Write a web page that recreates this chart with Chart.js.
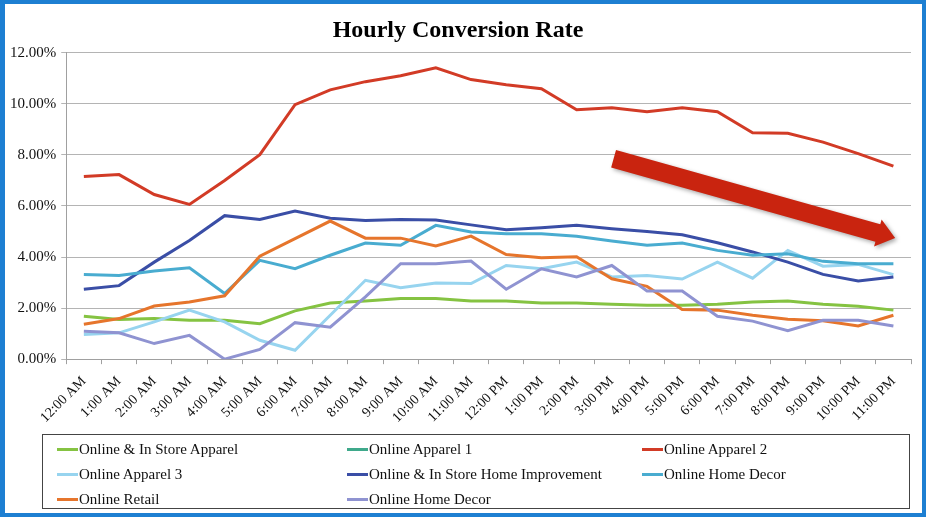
<!DOCTYPE html>
<html>
<head>
<meta charset="utf-8">
<script src="https://cdn.jsdelivr.net/npm/chart.js@4.4.1/dist/chart.umd.min.js"></script>
<style>
  html, body { margin: 0; padding: 0; background: #fff; }
  #wrap { position: relative; width: 928px; height: 520px; }
  #frame { position: absolute; left: 0; top: 0; width: 926px; height: 517px; box-sizing: border-box;
    border: 4px solid #1d7fd2; border-left-width: 5px; pointer-events: none; }
  #legend { position: absolute; left: 42px; top: 434px; width: 868px; height: 75px; box-sizing: border-box;
    border: 1px solid #444; font-family: 'Liberation Serif', serif; font-size: 15px; color: #111; }
  .item { position: absolute; display: flex; align-items: center; white-space: nowrap; }
  .swatch { width: 21px; height: 3px; margin-right: 1px; }
</style>
</head>
<body>
<div id="wrap">
  <canvas id="chart" width="928" height="520"></canvas>
  <div id="legend"></div>
  <div id="frame"></div>
</div>
<script>
// Hourly conversion rate (%)
const hours = ['12:00 AM', '1:00 AM', '2:00 AM', '3:00 AM', '4:00 AM', '5:00 AM', '6:00 AM', '7:00 AM',
  '8:00 AM', '9:00 AM', '10:00 AM', '11:00 AM', '12:00 PM', '1:00 PM', '2:00 PM', '3:00 PM', '4:00 PM',
  '5:00 PM', '6:00 PM', '7:00 PM', '8:00 PM', '9:00 PM', '10:00 PM', '11:00 PM'];

const storeApparel = [1.68, 1.55, 1.59, 1.52, 1.52, 1.39, 1.89, 2.2, 2.28, 2.38, 2.38, 2.28, 2.28, 2.2, 2.2, 2.15, 2.11, 2.11, 2.15, 2.24, 2.28, 2.15, 2.07, 1.92];
const apparel1 = [];
const apparel2 = [7.15, 7.23, 6.45, 6.06, 7.0, 8.01, 9.97, 10.55, 10.87, 11.1, 11.41, 10.95, 10.75, 10.59, 9.77, 9.85, 9.69, 9.85, 9.69, 8.87, 8.85, 8.5, 8.05, 7.56];
const apparel3 = [0.97, 1.03, 1.46, 1.92, 1.46, 0.74, 0.35, 1.72, 3.09, 2.8, 2.98, 2.96, 3.67, 3.54, 3.8, 3.22, 3.28, 3.14, 3.8, 3.17, 4.26, 3.64, 3.71, 3.31];
const homeImprovement = [2.74, 2.88, 3.8, 4.65, 5.62, 5.47, 5.8, 5.52, 5.43, 5.47, 5.45, 5.26, 5.07, 5.15, 5.24, 5.11, 5.0, 4.87, 4.56, 4.2, 3.8, 3.32, 3.06, 3.22];
const homeDecor = [3.32, 3.28, 3.45, 3.58, 2.57, 3.87, 3.54, 4.07, 4.55, 4.46, 5.24, 4.98, 4.91, 4.91, 4.81, 4.63, 4.46, 4.55, 4.26, 4.07, 4.13, 3.83, 3.74, 3.74];
const retail = [1.37, 1.59, 2.08, 2.24, 2.48, 4.03, 4.72, 5.41, 4.74, 4.74, 4.43, 4.82, 4.1, 3.97, 4.01, 3.15, 2.85, 1.94, 1.92, 1.72, 1.56, 1.5, 1.3, 1.72];
const homeDecor2 = [1.09, 1.03, 0.61, 0.93, 0.0, 0.38, 1.43, 1.25, 2.44, 3.74, 3.74, 3.84, 2.74, 3.54, 3.22, 3.67, 2.67, 2.67, 1.68, 1.49, 1.11, 1.52, 1.52, 1.3];

const seriesNames = ['Online & In Store Apparel', 'Online Apparel 1', 'Online Apparel 2', 'Online Apparel 3',
  'Online & In Store Home Improvement', 'Online Home Decor', 'Online Retail', 'Online Home Decor'];
const seriesData = [storeApparel, apparel1, apparel2, apparel3, homeImprovement, homeDecor, retail, homeDecor2];
const seriesColors = ['#85c342', '#3fa98b', '#d23b26', '#97d4ef', '#3a4ea6', '#49acd0', '#e6752c', '#8f93d1'];

// trend arrow, in category index / percent
const arrowFrom = { x: 15.05, y: 7.85 };
const arrowTo = { x: 23.05, y: 4.75 };

const serif = "'Liberation Serif', 'Times New Roman', serif";

const arrowPlugin = {
  id: 'trendArrow',
  afterDatasetsDraw(chart) {
    const { ctx, scales: { x, y } } = chart;
    const x0 = x.getPixelForValue(arrowFrom.x), y0 = y.getPixelForValue(arrowFrom.y);
    const x1 = x.getPixelForValue(arrowTo.x), y1 = y.getPixelForValue(arrowTo.y);
    const len = Math.hypot(x1 - x0, y1 - y0);
    const shaft = 9, head = 14, headLen = 18;
    ctx.save();
    ctx.translate(x0, y0);
    ctx.rotate(Math.atan2(y1 - y0, x1 - x0));
    ctx.shadowColor = 'rgba(0,0,0,0.35)';
    ctx.shadowBlur = 4;
    ctx.shadowOffsetX = 2;
    ctx.shadowOffsetY = 2;
    ctx.fillStyle = '#c9240f';
    ctx.beginPath();
    ctx.moveTo(0, -shaft);
    ctx.lineTo(len - headLen, -shaft);
    ctx.lineTo(len - headLen, -head);
    ctx.lineTo(len, 0);
    ctx.lineTo(len - headLen, head);
    ctx.lineTo(len - headLen, shaft);
    ctx.lineTo(0, shaft);
    ctx.closePath();
    ctx.fill();
    ctx.restore();
  }
};

const chart = new Chart(document.getElementById('chart'), {
  type: 'line',
  data: {
    labels: hours,
    datasets: seriesNames.map((name, i) => ({
      label: name,
      data: seriesData[i],
      borderColor: seriesColors[i],
      backgroundColor: seriesColors[i],
      borderWidth: 3,
      pointRadius: 0,
      tension: 0,
      order: seriesNames.length - i
    }))
  },
  options: {
    responsive: false,
    animation: false,
    layout: { padding: { left: 5, right: 17, top: 10, bottom: 85 } },
    plugins: {
      legend: { display: false },
      tooltip: { enabled: false },
      title: {
        display: true,
        text: 'Hourly Conversion Rate',
        color: '#000',
        font: { family: serif, size: 24, weight: 'bold' },
        padding: { top: 6, bottom: 8 }
      }
    },
    scales: {
      x: {
        offset: true,
        grid: { display: true, drawOnChartArea: false, offset: true, tickLength: 5, color: '#a0a0a0' },
        border: { color: '#a0a0a0' },
        ticks: { color: '#111', font: { family: serif, size: 14 }, minRotation: 45, maxRotation: 45, autoSkip: false, padding: 9 }
      },
      y: {
        min: 0,
        max: 12,
        grid: { color: '#b4b4b4', tickLength: 5 },
        border: { color: '#a0a0a0' },
        ticks: { stepSize: 2, color: '#111', font: { family: serif, size: 15 }, padding: 5,
          callback: v => v.toFixed(2) + '%' }
      }
    }
  },
  plugins: [arrowPlugin]
});

// legend box: three columns like the Excel legend
const legendEl = document.getElementById('legend');
const colX = [14, 304, 599];
chart.data.datasets.forEach((ds, i) => {
  const item = document.createElement('div');
  item.className = 'item';
  item.style.left = colX[i % 3] + 'px';
  item.style.top = (6 + Math.floor(i / 3) * 25) + 'px';
  item.innerHTML = `<span class="swatch" style="background:${ds.borderColor}"></span><span>${ds.label}</span>`;
  legendEl.appendChild(item);
});
</script>
</body>
</html>
